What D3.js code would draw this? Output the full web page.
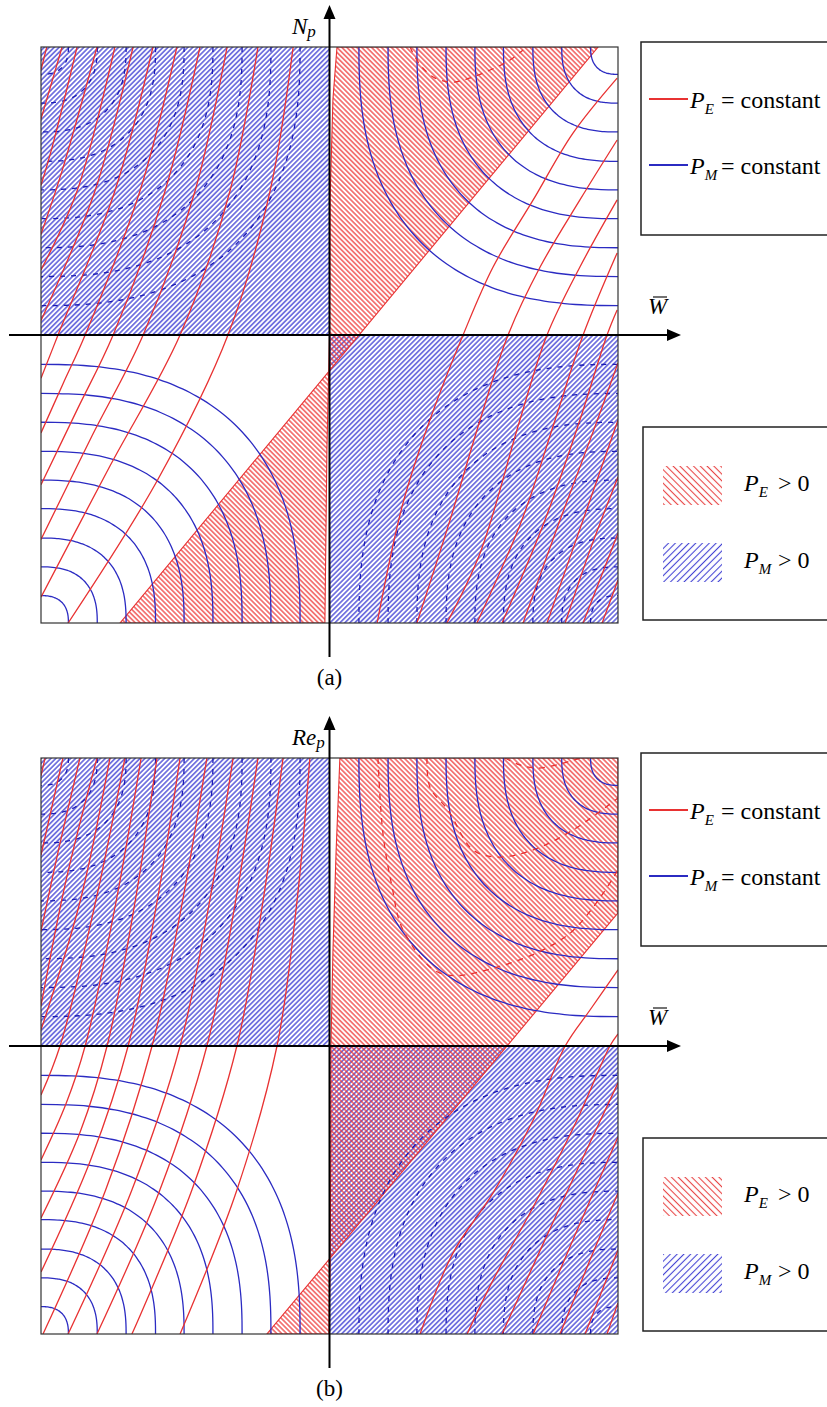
<!DOCTYPE html>
<html>
<head>
<meta charset="utf-8">
<script src="https://cdn.jsdelivr.net/npm/d3@7"></script>
<style>
  body { margin: 0; background: #fff; }
  svg { display: block; }
</style>
</head>
<body>
<svg id="chart" width="827" height="1407"></svg>
<script>
// Both axes run -100..100 in plot units (W̄ horizontal, N_p / Re_p vertical)

// P_M = constant contours: quarter loops around each corner, radii
const arcRadii = [9.5, 19.5, 29.5, 39.7, 49.6, 59.6, 69.7, 79.7, 89.8];
const solidCorners = [[-100, -100], [100, 100]];   // white / P_E>0 quadrants
const dashedCorners = [[-100, 100], [100, -100]];  // P_M>0 quadrants

// P_M > 0 regions: [[x0,x1],[y0,y1]]
const blueRegions = [[[-100, 0], [0, 100]], [[0, 100], [-100, 0]]];

// P_E > 0 regions (outline between P_E = 0 curves)
const redRegionA = [[2.6, 100], [93.1, 100], [-72.6, -100], [-1.6, -100], [-0.9, -40], [0, 0], [0.2, 47], [1.2, 82]];
const redRegionB = [[3.6, 100], [100, 100], [100, 46.2], [-21.7, -100], [-0.2, -100], [0.2, -75], [0.5, -36], [0.5, 0], [1.2, 33], [2.3, 68]];

// P_E = constant, panel (a)
const redLinesA = [
  [[-12.6, 100], [-20.6, 50], [-35.2, 0], [-59.4, -50], [-90.6, -100]],
  [[-24.8, 100], [-34.5, 50], [-51.8, 0], [-76.1, -45.5], [-100, -91]],
  [[-35.5, 100], [-46.6, 50], [-64.6, 0], [-82.3, -35], [-100, -71]],
  [[-44.9, 100], [-57, 50], [-75, 0], [-87.5, -26], [-100, -52]],
  [[-52.9, 100], [-65.7, 50], [-84.7, 0], [-92.4, -17], [-100, -34]],
  [[-61.2, 100], [-74.4, 50], [-94.1, 0], [-100, -15]],
  [[-68.1, 100], [-81.3, 50], [-100, 5]],
  [[-74.4, 100], [-87.5, 50], [-100, 22.6]],
  [[-80.6, 100], [-92.7, 57], [-100, 35]],
  [[-87.5, 100], [-96.2, 65], [-100, 52]],
  [[-92.7, 100], [-100, 75]],
  [[-98, 100], [-100, 92]],
  [[99.7, 89.2], [84.4, 70.1], [70.6, 46.9], [56.7, 23.6], [46.3, 0], [34.8, -29.5], [25.5, -58.3], [16.5, -100]],
  [[99.7, 67.7], [86.8, 46.9], [73, 23.6], [61.9, 0], [52.2, -29.5], [41.8, -64.2], [30.3, -100]],
  [[99.7, 46.9], [86.8, 23.6], [75.4, 0], [66, -29.5], [52.2, -75.7], [40.7, -100]],
  [[99.7, 28.5], [87.9, 0], [78.2, -29.5], [66.7, -64.2], [51.1, -100]],
  [[99.7, 8.7], [96.2, 0], [86.8, -29.5], [74.7, -64.2], [59.8, -100]],
  [[100, -9.7], [90.3, -36.5], [79.9, -64.2], [67.1, -100]],
  [[100, -29.5], [87.9, -64.2], [75.4, -100]],
  [[100, -49.3], [90.3, -74.7], [81.7, -100]],
  [[100, -68.8], [87.9, -100]],
  [[100, -85.1], [94.5, -100]]
];
const redDashA = [
  [[27.9, 100], [31.4, 93.8], [36.6, 89.2], [42.8, 87.8], [49.7, 89.6], [58.1, 93.1], [62.6, 95.5], [67.1, 99]]
];

// P_E = constant, panel (b)
const redLinesB = [
  [[-6.8, 100], [-11.3, 50], [-18.2, 0], [-32.1, -50], [-51.8, -100]],
  [[-16.1, 100], [-23.1, 50], [-32.1, 0], [-47.7, -50], [-68.5, -100]],
  [[-24.8, 100], [-32.6, 50], [-42.5, 0], [-58.8, -50], [-80.6, -100]],
  [[-33.4, 100], [-41.6, 50], [-51.8, 0], [-68.5, -50], [-90.6, -100]],
  [[-42.5, 100], [-51, 50], [-61.5, 0], [-77.6, -50], [-99.3, -100]],
  [[-51.8, 100], [-59.8, 50], [-69.8, 0], [-82.8, -39.6], [-100, -78.5]],
  [[-59.8, 100], [-67.4, 50], [-77.1, 0], [-86.5, -30], [-100, -59.7]],
  [[-65.3, 100], [-74, 50], [-84.7, 0], [-91.3, -20], [-100, -39.6]],
  [[-70.9, 100], [-81.1, 50], [-93.4, 0], [-100, -17]],
  [[-76.1, 100], [-86.5, 50], [-100, 5.6]],
  [[-80.6, 100], [-91.3, 57.6], [-100, 13.9]],
  [[-86.5, 100], [-93.5, 70], [-100, 39.9]],
  [[-92.4, 100], [-100, 66.3]],
  [[-98.6, 100], [-100, 93.8]],
  [[100, 26.4], [90.3, 12.5], [81.7, 0], [70.6, -25.7], [56.7, -51], [42.8, -71.9], [31.4, -100]],
  [[100, 4.2], [97.2, 0], [85.8, -25.7], [70.6, -55.9], [56.7, -81.3], [47.7, -100]],
  [[100, -12.8], [79.9, -55.9], [59.8, -100]],
  [[100, -31.6], [85.1, -65.6], [70.6, -100]],
  [[100, -51], [89.9, -75.3], [79.9, -100]],
  [[100, -70.8], [88.6, -100]],
  [[100, -89.2], [96.2, -100]]
];
const redDashB = [
  [[16.8, 100], [18.5, 74], [21.7, 55.2], [25.5, 40.3], [38.3, 25.3], [58.1, 27.4], [83.4, 39.2], [100, 61.1]],
  [[33.8, 100], [34.8, 89.9], [41.1, 81.9], [49.7, 68.1], [58.1, 65.6], [70.6, 68.1], [84.4, 75], [100, 86.1]],
  [[60.8, 100], [66, 97.6], [71.9, 96.5], [79.9, 97.9], [86.8, 100]]
];

const panels = [
  { key: "a", top: 47, yName: ["N", "p"], tag: "(a)", redRegion: redRegionA, redLines: redLinesA, redDash: redDashA },
  { key: "b", top: 758, yName: ["Re", "p"], tag: "(b)", redRegion: redRegionB, redLines: redLinesB, redDash: redDashB }
];

const arcExponent = 2.5;
const RED = "#e83232", BLUE = "#2b2bc2";
const SERIF = '"Liberation Serif", "Times New Roman", serif';

const svg = d3.select("#chart");
const defs = svg.append("defs");

function hatch(id, angle, spacing, color, width) {
  defs.append("pattern")
    .attr("id", id)
    .attr("patternUnits", "userSpaceOnUse")
    .attr("width", spacing).attr("height", 10)
    .attr("patternTransform", `rotate(${angle})`)
    .append("line")
    .attr("x1", spacing / 2).attr("x2", spacing / 2)
    .attr("y1", 0).attr("y2", 10)
    .attr("stroke", color).attr("stroke-width", width);
}
hatch("blueHatch", 45, 3.5, "#3030d0", 1.2);
hatch("redHatch", -45, 3.5, "#ee3232", 1.2);
hatch("blueLeg", 45, 4.8, "#4545d4", 1.1);
hatch("redLeg", -45, 4.8, "#e84646", 1.1);

function cornerLoop(r, corner) {
  const sx = corner[0] < 0 ? 1 : -1, sy = corner[1] < 0 ? 1 : -1;
  return d3.range(0, 90.01, 2).map(deg => {
    const t = deg * Math.PI / 180;
    const c = Math.max(Math.cos(t), 0), s = Math.max(Math.sin(t), 0);
    return [corner[0] + sx * r * Math.pow(c, 2 / arcExponent), corner[1] + sy * r * Math.pow(s, 2 / arcExponent)];
  });
}

function label(g, x, y, size) {
  return g.append("text").attr("x", x).attr("y", y)
    .style("font-family", SERIF).attr("font-size", size).attr("fill", "#000");
}

function drawPanel(p) {
  const x = d3.scaleLinear().domain([-100, 100]).range([41, 618]);
  const y = d3.scaleLinear().domain([-100, 100]).range([p.top + 576, p.top]);
  const g = svg.append("g");

  const clipId = "clip-" + p.key;
  defs.append("clipPath").attr("id", clipId)
    .append("rect")
    .attr("x", x(-100)).attr("y", y(100))
    .attr("width", x(100) - x(-100)).attr("height", y(-100) - y(100));

  const body = g.append("g").attr("clip-path", `url(#${clipId})`);

  // P_M > 0
  body.selectAll("rect.pm").data(blueRegions).join("rect")
    .attr("class", "pm")
    .attr("x", d => x(d[0][0])).attr("y", d => y(d[1][1]))
    .attr("width", d => x(d[0][1]) - x(d[0][0]))
    .attr("height", d => y(d[1][0]) - y(d[1][1]))
    .attr("fill", "url(#blueHatch)");

  // P_E > 0
  const poly = d3.line().x(d => x(d[0])).y(d => y(d[1]));
  body.append("path")
    .attr("d", poly(p.redRegion) + "Z")
    .attr("fill", "url(#redHatch)")
    .attr("stroke", RED).attr("stroke-width", 1.1);

  const curve = d3.line().x(d => x(d[0])).y(d => y(d[1])).curve(d3.curveCatmullRom.alpha(0.5));

  // P_M = constant
  const solid = solidCorners.flatMap(c => arcRadii.map(r => cornerLoop(r, c)));
  const dashed = dashedCorners.flatMap(c => arcRadii.map(r => cornerLoop(r, c)));
  body.selectAll("path.pms").data(solid).join("path")
    .attr("class", "pms").attr("d", curve)
    .attr("fill", "none").attr("stroke", BLUE).attr("stroke-width", 1.3);
  body.selectAll("path.pmd").data(dashed).join("path")
    .attr("class", "pmd").attr("d", curve)
    .attr("fill", "none").attr("stroke", "#1a1ab4").attr("stroke-width", 1.3)
    .attr("stroke-dasharray", "5,6");

  // P_E = constant
  body.selectAll("path.pes").data(p.redLines).join("path")
    .attr("class", "pes").attr("d", curve)
    .attr("fill", "none").attr("stroke", RED).attr("stroke-width", 1.3);
  body.selectAll("path.ped").data(p.redDash).join("path")
    .attr("class", "ped").attr("d", curve)
    .attr("fill", "none").attr("stroke", RED).attr("stroke-width", 1.3)
    .attr("stroke-dasharray", "6,6");

  // frame
  g.append("rect")
    .attr("x", x(-100)).attr("y", y(100))
    .attr("width", x(100) - x(-100)).attr("height", y(-100) - y(100))
    .attr("fill", "none").attr("stroke", "#333").attr("stroke-width", 1.2);

  // axes
  const x0 = x(0), y0 = y(0);
  g.append("line").attr("x1", 9).attr("x2", 670).attr("y1", y0).attr("y2", y0)
    .attr("stroke", "#000").attr("stroke-width", 2);
  g.append("path").attr("d", `M681,${y0}L667,${y0 - 6}L667,${y0 + 6}Z`).attr("fill", "#000");
  g.append("line").attr("x1", x0).attr("x2", x0).attr("y1", p.top + 610).attr("y2", p.top - 30)
    .attr("stroke", "#000").attr("stroke-width", 2);
  g.append("path").attr("d", `M${x0},${p.top - 42}L${x0 - 6},${p.top - 28}L${x0 + 6},${p.top - 28}Z`).attr("fill", "#000");

  // axis labels
  const yl = label(g, 292, p.top - 13, 23).attr("font-style", "italic");
  yl.append("tspan").text(p.yName[0]);
  yl.append("tspan").attr("font-size", 17).attr("dy", 3).text(p.yName[1]);

  label(g, 648, y0 - 21, 23).attr("font-style", "italic").text("W");
  g.append("line").attr("x1", 653).attr("x2", 667).attr("y1", y0 - 38).attr("y2", y0 - 38)
    .attr("stroke", "#000").attr("stroke-width", 1.1);

  label(g, x0, p.top + 638, 23).attr("text-anchor", "middle").text(p.tag);

  // legend: contour lines
  const l1 = p.top - 5;
  g.append("rect").attr("x", 641).attr("y", l1).attr("width", 200).attr("height", 193)
    .attr("fill", "#fff").attr("stroke", "#222").attr("stroke-width", 1.5);
  [["E", RED, 57], ["M", BLUE, 123]].forEach(([sub, col, dy]) => {
    g.append("line").attr("x1", 649).attr("x2", 688).attr("y1", l1 + dy).attr("y2", l1 + dy)
      .attr("stroke", col).attr("stroke-width", 1.8);
    const t = label(g, 690, l1 + dy + 9, 24);
    t.append("tspan").attr("font-style", "italic").text("P");
    t.append("tspan").attr("font-style", "italic").attr("font-size", 15).attr("dy", 6).text(sub);
    t.append("tspan").attr("x", 721).attr("dy", -6).text("= constant");
  });

  // legend: regions
  const l2 = p.top + 380;
  g.append("rect").attr("x", 643).attr("y", l2).attr("width", 200).attr("height", 193)
    .attr("fill", "#fff").attr("stroke", "#222").attr("stroke-width", 1.5);
  [["E", "url(#redLeg)", 39], ["M", "url(#blueLeg)", 116]].forEach(([sub, fill, dy]) => {
    g.append("rect").attr("x", 663).attr("y", l2 + dy).attr("width", 59).attr("height", 39).attr("fill", fill);
    const t = label(g, 744, l2 + dy + 25, 24);
    t.append("tspan").attr("font-style", "italic").text("P");
    t.append("tspan").attr("font-style", "italic").attr("font-size", 15).attr("dy", 6).text(sub);
    t.append("tspan").attr("x", 778).attr("dy", -6).text("> 0");
  });
}

panels.forEach(drawPanel);
</script>
</body>
</html>
